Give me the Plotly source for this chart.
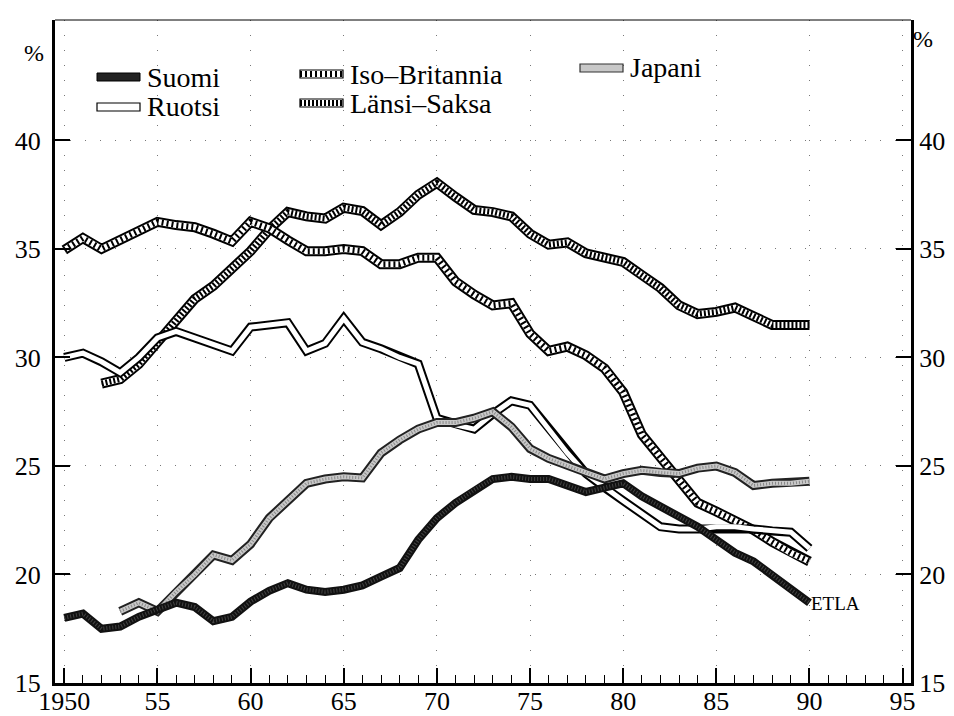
import plotly.graph_objects as go

# Teollisuuden osuus BKT:sta, % (luettu kuvasta)
years_suomi = list(range(1950, 1991))
suomi = [18.0, 18.2, 17.5, 17.6, 18.05, 18.4, 18.7, 18.5, 17.85, 18.05,
         18.75, 19.25, 19.6, 19.3, 19.2, 19.3, 19.5, 19.9, 20.3, 21.6,
         22.6, 23.3, 23.9, 24.4, 24.5, 24.4, 24.4, 24.1, 23.8, 24.0,
         24.2, 23.6, 23.15, 22.7, 22.2, 21.6, 21.0, 20.6, 20.0, 19.3, 18.7]

years_ruotsi = list(range(1950, 1991))
ruotsi = [30.0, 30.2, 29.8, 29.3, 30.0, 30.9, 31.2, 30.9, 30.6, 30.3,
          31.4, 31.5, 31.6, 30.3, 30.65, 31.8, 30.7, 30.4, 30.0, 29.7,
          27.2, 26.9, 26.7, 27.4, 28.0, 27.8, 26.7, 25.6, 24.65, 24.0,
          23.4, 22.8, 22.2, 22.1, 22.1, 22.2, 22.2, 22.1, 22.0, 21.95, 21.2]

years_uk = list(range(1950, 1991))
iso_britannia = [34.95, 35.5, 35.0, 35.4, 35.8, 36.25, 36.1, 36.0, 35.7, 35.35,
                 36.25, 35.95, 35.4, 34.9, 34.9, 35.0, 34.9, 34.3, 34.3, 34.6,
                 34.6, 33.5, 32.9, 32.4, 32.5, 31.1, 30.3, 30.5, 30.1, 29.5,
                 28.4, 26.45, 25.4, 24.4, 23.3, 22.9, 22.5, 22.05, 21.5, 21.0, 20.6]

years_ls = list(range(1952, 1991))
lansi_saksa = [28.8, 29.0, 29.7, 30.7, 31.8, 32.7, 33.3, 34.1,
               34.9, 35.9, 36.7, 36.5, 36.4, 36.9, 36.75, 36.1, 36.7, 37.5,
               38.05, 37.4, 36.8, 36.7, 36.5, 35.7, 35.2, 35.3, 34.8, 34.6,
               34.4, 33.8, 33.2, 32.4, 32.0, 32.1, 32.3, 31.9, 31.5, 31.5, 31.5]

years_japani = list(range(1953, 1991))
japani = [18.3, 18.7, 18.3, 19.2, 20.0, 20.9, 20.65,
          21.4, 22.6, 23.4, 24.2, 24.4, 24.5, 24.45, 25.6, 26.2, 26.7,
          27.0, 27.0, 27.2, 27.5, 26.8, 25.8, 25.35, 25.0, 24.7, 24.4,
          24.65, 24.8, 24.7, 24.65, 24.9, 25.0, 24.7, 24.1, 24.2, 24.2, 24.3]

x_ticks = [1950, 1955, 1960, 1965, 1970, 1975, 1980, 1985, 1990, 1995]
x_labels = ["1950", "55", "60", "65", "70", "75", "80", "85", "90", "95"]
y_ticks = [15, 20, 25, 30, 35, 40]

FONT = "Liberation Serif, DejaVu Serif, serif"

# viivatyylit kerroksina: (leveys, väri, katkoviiva)
styles = {
    "Iso-Britannia": [(10, "black", "solid"), (6, "white", "solid"), (6, "black", "2px,3px")],
    "Länsi-Saksa": [(10, "black", "solid"), (6, "white", "solid"), (6, "black", "2px,2px")],
    "Ruotsi": [(9, "black", "solid"), (5, "white", "solid")],
    "Japani": [(9, "#222222", "solid"), (5, "#c8c8c8", "solid"), (3, "#888888", "1px,2px")],
    "Suomi": [(8, "#111111", "solid"), (4, "#444444", "1px,2px")],
}

series = [
    ("Länsi-Saksa", years_ls, lansi_saksa),
    ("Iso-Britannia", years_uk, iso_britannia),
    ("Ruotsi", years_ruotsi, ruotsi),
    ("Japani", years_japani, japani),
    ("Suomi", years_suomi, suomi),
]

fig = go.Figure()
for name, xs, ys in series:
    for lw, color, dash in styles[name]:
        fig.add_trace(go.Scatter(x=xs, y=ys, mode="lines", name=name,
                                 line=dict(width=lw, color=color, dash=dash),
                                 showlegend=False, hoverinfo="skip"))

# näkymätön jälki oikealle akselille
fig.add_trace(go.Scatter(x=years_suomi, y=suomi, yaxis="y2", mode="lines",
                         line=dict(width=0), opacity=0, showlegend=False,
                         hoverinfo="skip"))

# sivun body-marginaali 8 px; piirtoalue näytön pikseleinä
OFF = 8
W, H = 954, 716
L, R, T, B = 55, 911, 20, 683


def px(x):
    return (x - L) / (R - L)


def py(y):
    return (B - y) / (B - T)


shapes = []
annotations = []

# selite käsin: (nimi, x, y)
legend_items = [
    ("Suomi", 97, 77),
    ("Ruotsi", 97, 107),
    ("Iso-Britannia", 300, 74),
    ("Länsi-Saksa", 300, 103),
    ("Japani", 580, 68),
]
for name, lx, ly in legend_items:
    x0, x1, y0, y1 = px(lx), px(lx + 43), py(ly + 4), py(ly - 4)
    if name == "Suomi":
        shapes.append(dict(type="rect", xref="paper", yref="paper", x0=x0, x1=x1, y0=y0, y1=y1,
                           line=dict(color="black", width=1), fillcolor="#222222"))
    elif name == "Ruotsi":
        shapes.append(dict(type="rect", xref="paper", yref="paper", x0=x0, x1=x1, y0=y0, y1=y1,
                           line=dict(color="black", width=1.2), fillcolor="white"))
    elif name == "Japani":
        shapes.append(dict(type="rect", xref="paper", yref="paper", x0=x0, x1=x1, y0=y0, y1=y1,
                           line=dict(color="#333333", width=1.2), fillcolor="#c8c8c8"))
    else:
        shapes.append(dict(type="rect", xref="paper", yref="paper", x0=x0, x1=x1, y0=y0, y1=y1,
                           line=dict(color="black", width=1.2), fillcolor="white"))
        dash = "2px,3px" if name == "Iso-Britannia" else "2px,2px"
        shapes.append(dict(type="line", xref="paper", yref="paper", x0=x0, x1=x1,
                           y0=py(ly), y1=py(ly),
                           line=dict(color="black", width=6, dash=dash)))
    annotations.append(dict(text=name.replace("-", "–"), xref="paper", yref="paper",
                            x=px(lx + 48), y=py(ly), xanchor="left", yanchor="middle",
                            showarrow=False, font=dict(family=FONT, size=28, color="black")))

# yläreuna
shapes.append(dict(type="line", xref="paper", yref="paper", x0=0, x1=1, y0=1, y1=1,
                   line=dict(color="black", width=1)))

annotations += [
    dict(text="%", xref="paper", yref="paper", x=px(22), y=py(38), showarrow=False,
         font=dict(family=FONT, size=24, color="black")),
    dict(text="%", xref="paper", yref="paper", x=px(935), y=py(24), showarrow=False,
         font=dict(family=FONT, size=24, color="black")),
    dict(text="ETLA", xref="paper", yref="paper", x=px(862), y=py(616), showarrow=False,
         font=dict(family=FONT, size=19, color="black")),
]

axis_font = dict(family=FONT, size=26, color="black")
yaxis_common = dict(range=[15, 45.55], tickvals=y_ticks, ticks="inside", ticklen=15,
                    tickwidth=2, tickcolor="black", showline=True, linecolor="black",
                    linewidth=3, tickfont=axis_font, zeroline=False, automargin=False)

fig.update_layout(
    width=W, height=H,
    margin=dict(l=L - OFF, r=W - (R - OFF), t=T - OFF, b=H - (B - OFF)),
    paper_bgcolor="white", plot_bgcolor="white",
    showlegend=False,
    shapes=shapes,
    annotations=annotations,
    xaxis=dict(range=[1949.5, 1995.45], tickvals=x_ticks, ticktext=x_labels,
               ticks="inside", ticklen=15, tickwidth=2, tickcolor="black",
               ticklabelstandoff=-7,
               minor=dict(dtick=1, tick0=1950, ticks="inside", ticklen=8,
                          tickcolor="black", tickwidth=1, showgrid=False),
               showline=True, linecolor="black", linewidth=3, tickfont=axis_font,
               showgrid=True, gridcolor="#777777", griddash="1px,14px", gridwidth=1,
               zeroline=False, automargin=False),
    yaxis=dict(**yaxis_common, showgrid=True, gridcolor="#777777",
               griddash="1px,14px", gridwidth=1, ticklabelstandoff=6),
    yaxis2=dict(**yaxis_common, overlaying="y", side="right", showgrid=False),
)

fig.write_html("out.html")
